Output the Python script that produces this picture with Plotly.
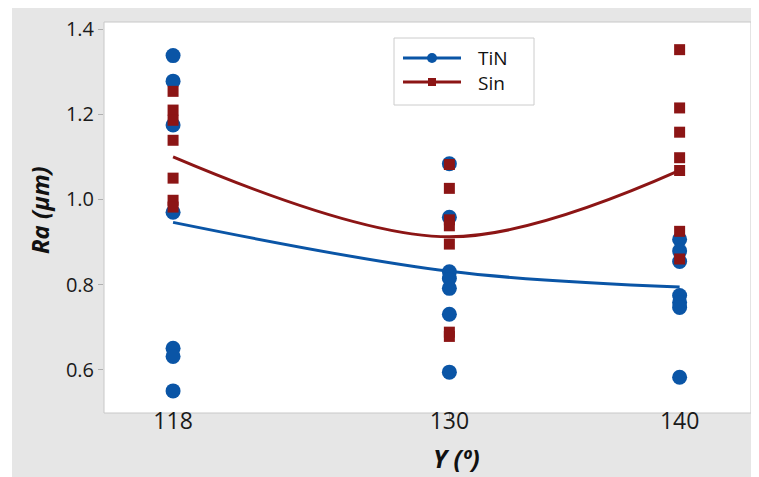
import plotly.graph_objects as go

# Data
x_levels = [118, 130, 140]
tin_x = [118]*7 + [130]*7 + [140]*7
tin_y = [1.338, 1.278, 1.175, 0.970, 0.650, 0.631, 0.550,
         1.084, 0.958, 0.830, 0.814, 0.791, 0.730, 0.594,
         0.906, 0.879, 0.854, 0.774, 0.758, 0.746, 0.582]
sin_x = [118]*7 + [130]*7 + [140]*7
sin_y = [1.254, 1.210, 1.186, 1.139, 1.050, 0.998, 0.982,
         1.082, 1.026, 0.952, 0.938, 0.895, 0.688, 0.678,
         1.352, 1.215, 1.158, 1.098, 1.068, 0.925, 0.860]
tin_fit = [0.946, 0.831, 0.794]
sin_fit = [1.100, 0.912, 1.068]
x_ticks = [118, 130, 140]
y_ticks = [0.6, 0.8, 1.0, 1.2, 1.4]
y_ticktext = ["0.6", "0.8", "1.0", "1.2", "1.4"]
series_names = ["TiN", "Sin"]

BLUE = "#0a55a6"
RED = "#8c1515"

# page has an 8px body margin; figure is sized/positioned to compensate
W, H = 751, 469
L, R, T, B = 96, 8, 14, 64
PW, PH = W - L - R, H - T - B
OFF = 8  # body margin


def px(xp):  # page pixel x -> plot paper x
    return (xp - OFF - L) / PW


def py(yp):  # page pixel y -> plot paper y
    return (T + PH - (yp - OFF)) / PH


fig = go.Figure()
fig.add_trace(go.Scatter(x=tin_x, y=tin_y, mode="markers", name=series_names[0],
                         showlegend=False,
                         marker=dict(symbol="circle", size=15, color=BLUE)))
fig.add_trace(go.Scatter(x=sin_x, y=sin_y, mode="markers", name=series_names[1],
                         showlegend=False,
                         marker=dict(symbol="square", size=11, color=RED)))
fig.add_trace(go.Scatter(x=x_levels, y=tin_fit, mode="lines", line_shape="spline",
                         line=dict(color=BLUE, width=3), showlegend=False))
fig.add_trace(go.Scatter(x=x_levels, y=sin_fit, mode="lines", line_shape="spline",
                         line=dict(color=RED, width=3), showlegend=False))

shapes = [
    dict(type="rect", xref="paper", yref="paper", layer="below",
         x0=px(12), x1=px(759), y0=py(477), y1=py(0),
         fillcolor="#e6e6e6", line=dict(width=0)),
    dict(type="rect", xref="paper", yref="paper", layer="below",
         x0=0, x1=1, y0=0, y1=1,
         fillcolor="white", line=dict(color="#c8c8c8", width=1)),
    # custom legend
    dict(type="rect", xref="paper", yref="paper", layer="above",
         x0=px(394), x1=px(534), y0=py(105), y1=py(38),
         fillcolor="white", line=dict(color="#cccccc", width=1)),
    dict(type="line", xref="paper", yref="paper", layer="above",
         x0=px(403), x1=px(461), y0=py(58), y1=py(58),
         line=dict(color=BLUE, width=3)),
    dict(type="circle", xref="paper", yref="paper", layer="above",
         x0=px(427), x1=px(437), y0=py(63), y1=py(53),
         fillcolor=BLUE, line=dict(color=BLUE, width=0)),
    dict(type="line", xref="paper", yref="paper", layer="above",
         x0=px(403), x1=px(461), y0=py(82), y1=py(82),
         line=dict(color=RED, width=3)),
    dict(type="rect", xref="paper", yref="paper", layer="above",
         x0=px(428), x1=px(436), y0=py(86), y1=py(78),
         fillcolor=RED, line=dict(color=RED, width=0)),
]

annotations = [
    dict(text="<br>".join(series_names), xref="paper", yref="paper",
         x=px(476), y=py(70), align="left",
         xanchor="left", yanchor="middle", showarrow=False,
         font=dict(size=19, color="#111111")),
    dict(text="<b><i>Υ (º)</i></b>", xref="paper", yref="paper",
         x=px(456), y=py(458), showarrow=False,
         xanchor="center", yanchor="middle",
         font=dict(size=25, color="#111111")),
    dict(text="<b><i>Ra (µm)</i></b>", xref="paper", yref="paper",
         x=px(40), y=py(210), showarrow=False, textangle=-90,
         xanchor="center", yanchor="middle",
         font=dict(size=24, color="#111111")),
]

fig.update_layout(
    width=W, height=H,
    margin=dict(l=L, r=R, t=T, b=B),
    paper_bgcolor="white", plot_bgcolor="white",
    font=dict(family="Open Sans", color="#222222"),
    showlegend=False,
    shapes=shapes,
    annotations=annotations,
)
fig.update_xaxes(range=[115.0, 143.1], tickvals=x_ticks, ticks="outside",
                 ticklen=5, tickcolor="#b0b0b0", showgrid=False, zeroline=False,
                 showline=False, ticklabelstandoff=-18,
                 tickfont=dict(size=23, color="#1a1a1a"))
fig.update_yaxes(range=[0.498, 1.417], tickvals=y_ticks, ticktext=y_ticktext,
                 ticks="outside", ticklen=5, tickcolor="#b0b0b0", showgrid=False,
                 zeroline=False, showline=False,
                 tickfont=dict(size=20, color="#1a1a1a"))
fig.write_html("out.html")
